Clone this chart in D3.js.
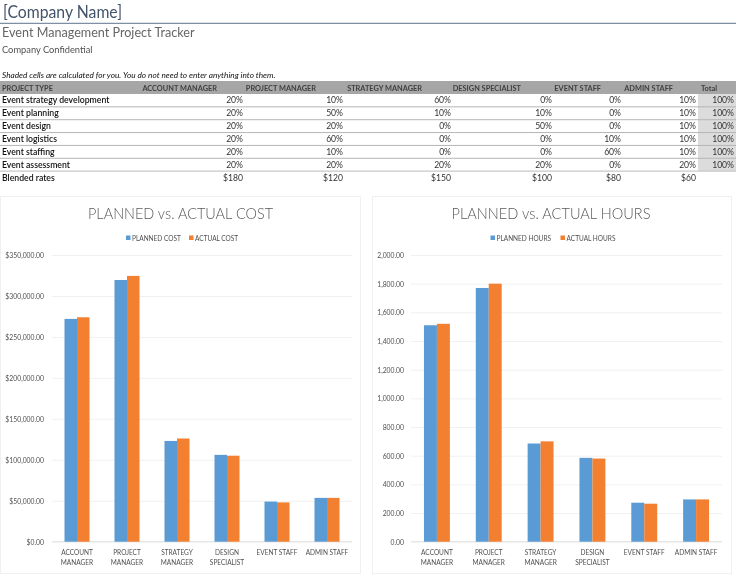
<!DOCTYPE html>
<html><head><meta charset="utf-8">
<script src="https://cdn.jsdelivr.net/npm/d3@7"></script>
<style>html,body{margin:0;padding:0;background:#fff}svg{display:block;font-family:Lato,"Open Sans",sans-serif;filter:blur(0.3px)}</style>
</head><body><svg id="c" width="736" height="581"></svg>
<script>
const tableHeaders = ["PROJECT TYPE","ACCOUNT MANAGER","PROJECT MANAGER","STRATEGY MANAGER","DESIGN SPECIALIST","EVENT STAFF","ADMIN STAFF","Total"];
const projectTypes = ["Event strategy development","Event planning","Event design","Event logistics","Event staffing","Event assessment"];
const accountPct = [20,20,20,20,20,20];
const projectPct = [10,50,20,60,10,20];
const strategyPct = [60,10,0,0,0,20];
const designPct = [0,10,50,0,0,20];
const eventPct = [0,0,0,10,60,0];
const adminPct = [10,10,10,10,10,20];
const totalPct = [100,100,100,100,100,100];
const blendedRates = [180,120,150,100,80,60];

const roles = [["ACCOUNT","MANAGER"],["PROJECT","MANAGER"],["STRATEGY","MANAGER"],["DESIGN","SPECIALIST"],["EVENT STAFF"],["ADMIN STAFF"]];
const plannedCost = [272000,319500,123000,106000,49000,53500];
const actualCost = [274000,324500,126000,105000,48000,53500];
const plannedHours = [1510,1770,685,585,272,295];
const actualHours = [1520,1800,700,580,265,295];
const costTicks = [0,50000,100000,150000,200000,250000,300000,350000];
const hourTicks = [0,200,400,600,800,1000,1200,1400,1600,1800,2000];

const svg = d3.select("#c");
const txt = (g,x,y,s,size,fill,anchor,extra={})=>{
  const t=g.append("text").attr("x",x).attr("y",y).text(s).attr("font-size",size).attr("fill",fill).attr("text-anchor",anchor||"start");
  Object.entries(extra).forEach(([k,v])=>t.attr(k,v)); return t;};
// Narrow the glyphs horizontally so Lato keeps the taller, tighter proportions of the original face.
const condense = (sel,f)=>sel.each(function(){
  this.setAttribute("textLength",this.getComputedTextLength()*f);
  this.setAttribute("lengthAdjust","spacingAndGlyphs");
});

// Page header
txt(svg,3,18,"[Company Name]",17.5,"#44546a","start",{textLength:119,lengthAdjust:"spacingAndGlyphs"});
svg.append("line").attr("x1",0).attr("x2",736).attr("y1",23.3).attr("y2",23.3).attr("stroke","#7f8fa3").attr("stroke-width",1.2);
txt(svg,2,37,"Event Management Project Tracker",12.6,"#666");
condense(txt(svg,2,52.5,"Company Confidential",10,"#505050"),.93);
txt(svg,2,78,"Shaded cells are calculated for you. You do not need to enter anything into them.",8.25,"#111","start",{"font-style":"italic"});

// Table
const headerEnds = [2,217,316,422,521,601,673,717];
const valueEnds = [243,343,451,552,621,696,734];
const rowY = d3.scaleBand().domain(d3.range(7)).range([94,184]);
svg.append("rect").attr("x",0).attr("y",81).attr("width",736).attr("height",13).attr("fill","#a6a6a6");
svg.append("rect").attr("x",698).attr("y",94).attr("width",38).attr("height",77).attr("fill","#dcdcdc");
tableHeaders.forEach((h,i)=>condense(txt(svg,headerEnds[i],90.8,h,8.2,"#3f3f3f",i?"end":"start",{"font-weight":700}),.9));
const pctCols=[accountPct,projectPct,strategyPct,designPct,eventPct,adminPct,totalPct];
projectTypes.forEach((p,r)=>{
  const y=rowY(r)+rowY.bandwidth()-3.4;
  txt(svg,2,y,p,8.7,"#111","start",{"font-weight":600});
  pctCols.forEach((col,c)=>txt(svg,valueEnds[c],y,col[r]+"%",8.6,"#333","end"));
  svg.append("line").attr("x1",0).attr("x2",736).attr("y1",rowY(r)+rowY.bandwidth()).attr("y2",rowY(r)+rowY.bandwidth())
    .attr("stroke",r===5?"#c8c8c8":"#b5b5b5").attr("stroke-width",r===5?1.3:1);
});
const by=rowY(6)+rowY.bandwidth()-3.4;
txt(svg,2,by,"Blended rates",8.7,"#111","start",{"font-weight":600});
blendedRates.forEach((v,c)=>txt(svg,valueEnds[c],by,"$"+v,8.6,"#333","end"));

// Charts
function chart(o){
  const g=svg.append("g");
  g.append("rect").attr("x",o.box[0]+.5).attr("y",196.5).attr("width",o.box[1]-o.box[0]).attr("height",377).attr("fill","#fff").attr("stroke","#f0f0f0");
  const x=d3.scaleBand().domain(d3.range(6)).range([o.left,o.right]);
  const y=d3.scaleLinear().domain(o.domain).range([541.7,255]);
  const inner=d3.scaleBand().domain([0,1]).range([x.bandwidth()/4,x.bandwidth()*3/4]);
  const yAxis=d3.axisLeft(y).tickValues(o.ticks).tickFormat(o.fmt).tickSize(-(o.right-o.left)).tickPadding(o.pad);
  const ya=g.append("g").attr("transform",`translate(${o.left},0)`).call(yAxis);
  ya.select(".domain").remove();
  ya.selectAll("line").attr("stroke","#f1f1f1");
  ya.selectAll("text").attr("font-size",7.4).attr("fill","#505050").attr("font-family","Lato,sans-serif");
  condense(ya.selectAll("text"),.92);
  g.append("line").attr("x1",o.left).attr("x2",o.right).attr("y1",y(0)).attr("y2",y(0)).attr("stroke","#e2e2e2");
  [[o.planned,"#5b9bd5"],[o.actual,"#f28030"]].forEach(([vals,color],s)=>{
    g.selectAll(null).data(vals).join("rect")
      .attr("x",(d,i)=>x(i)+inner(s)).attr("width",inner.bandwidth())
      .attr("y",d=>y(d)).attr("height",d=>y(0)-y(d)).attr("fill",color);
  });
  roles.forEach((lines,i)=>lines.forEach((l,k)=>
    condense(txt(g,x(i)+x.bandwidth()/2,555+k*9.8,l,7.5,"#505050","middle"),.87)));
  txt(g,o.titleX,219,o.title,16.5,"#595959","middle",{"font-weight":300,textLength:o.titleW,lengthAdjust:"spacingAndGlyphs"});
  o.legend.forEach((l,i)=>{
    g.append("rect").attr("x",l.x).attr("y",235.5).attr("width",4.5).attr("height",4.5).attr("fill",i?"#f28030":"#5b9bd5");
    condense(txt(g,l.x+6,240.7,l.name,7.4,"#505050"),.88);
  });
}
chart({box:[0,360],left:52,right:352,domain:[0,350000],ticks:costTicks,pad:8,
  fmt:d=>"$"+d3.format(",.2f")(d),planned:plannedCost,actual:actualCost,
  title:"PLANNED vs. ACTUAL COST",titleX:180.5,titleW:185,
  legend:[{x:126,name:"PLANNED COST"},{x:189,name:"ACTUAL COST"}]});
chart({box:[372,731],left:411,right:722,domain:[0,2000],ticks:hourTicks,pad:7,
  fmt:d3.format(",.2f"),planned:plannedHours,actual:actualHours,
  title:"PLANNED vs. ACTUAL HOURS",titleX:551,titleW:199,
  legend:[{x:490.5,name:"PLANNED HOURS"},{x:560.5,name:"ACTUAL HOURS"}]});
</script></body></html>
